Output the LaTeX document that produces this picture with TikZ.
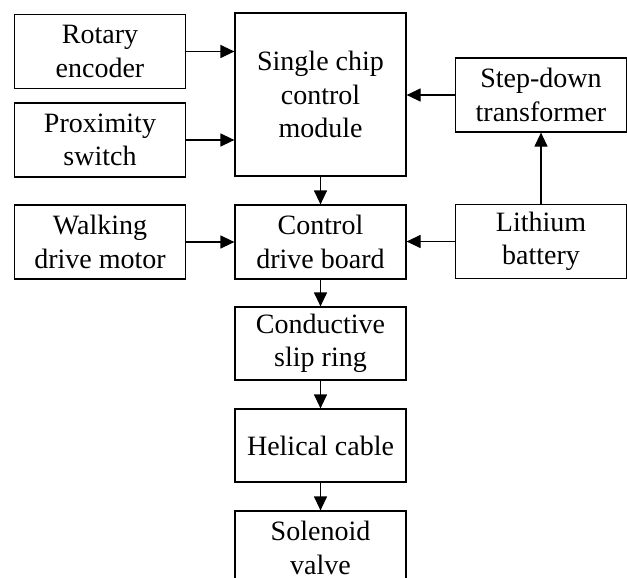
\documentclass[tikz,border=0pt]{standalone}
\usepackage{fontspec}
\setmainfont{Liberation Serif}
\usetikzlibrary{arrows.meta}

\tikzset{
    block/.style={draw=black, line width=1.2pt, fill=white, align=center,
        minimum width=171pt, minimum height=74pt, inner sep=0pt,
        font=\fontsize{28}{33.5}\selectfont},
    link/.style={line width=1.2pt, -{Triangle[length=14pt,width=13pt]}}
}

\begin{document}
\begin{tikzpicture}[x=1pt,y=-1pt]
        \useasboundingbox (0,0) rectangle (627,578);
        \clip (0,0) rectangle (627,578);
        % left column
        \node[block] (enc) at (100,51.5) {Rotary\\encoder};
        \node[block] (prox) at (100,140) {Proximity\\switch};
        \node[block] (walk) at (100,242) {Walking\\drive motor};
        % middle column
        \node[block, minimum height=163pt] (mcu) at (320.5,94.5) {Single chip\\control\\module};
        \node[block] (board) at (320.5,242) {Control\\drive board};
        \node[block, minimum height=73pt] (ring) at (320.5,343.5) {Conductive\\slip ring};
        \node[block, minimum height=73pt] (cable) at (320.5,445.5) {Helical cable};
        \node[block] (valve) at (320.5,548) {Solenoid\\valve};
        % right column
        \node[block] (step) at (541,95) {Step-down\\transformer};
        \node[block] (batt) at (541,241.5) {Lithium\\battery};

        % signals into the controller
        \draw[link] (enc.east) -- (enc.east -| mcu.west);
        \draw[link] (prox.east) -- (prox.east -| mcu.west);
        \draw[link] (walk.east) -- (board.west);
        \draw[link] (mcu.south) -- (board.north);
        % power supply
        \draw[link] (batt.north) -- (step.south);
        \draw[link] (step.west) -- (step.west -| mcu.east);
        \draw[link] (batt.west) -- (batt.west -| board.east);
        % output chain
        \draw[link] (board.south) -- (ring.north);
        \draw[link] (ring.south) -- (cable.north);
        \draw[link] (cable.south) -- (valve.north);
\end{tikzpicture}
\end{document}
